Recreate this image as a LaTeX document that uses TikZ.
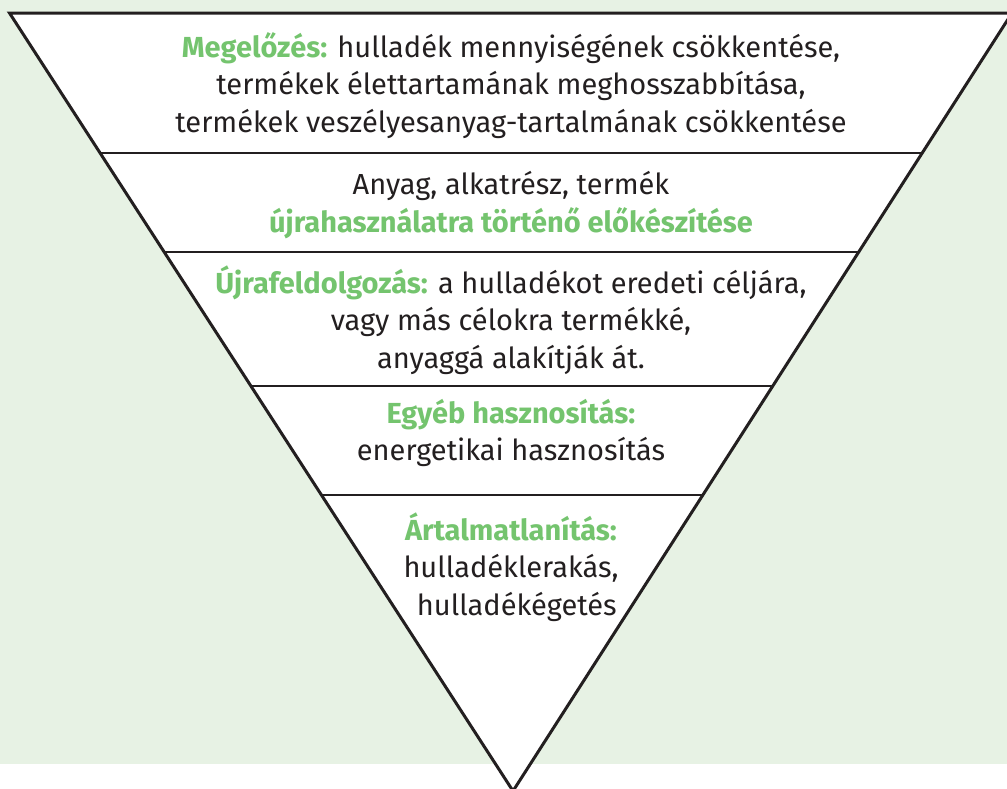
\documentclass[tikz,border=0pt]{standalone}
\usepackage{fontspec}
\setmainfont{Fira Sans}
\definecolor{bggreen}{HTML}{E7F2E4}
\definecolor{hl}{HTML}{74C46E}
\definecolor{ink}{HTML}{231F20}
\tikzset{
  lvltext/.style={align=center, text=ink, font=\fontsize{29}{37.5}\selectfont, inner sep=0pt, anchor=center},
  sep/.style={draw=ink, line width=2.6pt}
}
\newcommand{\hlt}[1]{\textcolor{hl}{\bfseries #1}}
\begin{document}
\begin{tikzpicture}[x=1pt,y=-1pt]
\useasboundingbox (0,0) rectangle (1007,788);
\fill[bggreen] (0,0) rectangle (1007,764);
\begin{scope}
\clip (0,0) rectangle (1007,788);
\coordinate (L) at (9.5,13);
\coordinate (R) at (1012,13);
\coordinate (A) at (513,791);
\fill[white] (L) -- (R) -- (A) -- cycle;
\begin{scope}
\clip (L) -- (R) -- (A) -- cycle;
\draw[sep] (0,153) -- (1007,153);
\draw[sep] (0,252) -- (1007,252);
\draw[sep] (0,386) -- (1007,386);
\draw[sep] (0,495) -- (1007,495);
\end{scope}
\draw[ink, line width=3pt, line join=miter] (L) -- (R) -- (A) -- cycle;
\end{scope}
\node[lvltext] (t1) at (511,85.5) {\hlt{Megelőzés:} hulladék mennyiségének csökkentése,\\termékek élettartamának meghosszabbítása,\\termékek veszélyesanyag-tartalmának csökkentése};
\node[lvltext] (t2) at (511,205) {Anyag, alkatrész, termék\\\hlt{újrahasználatra történő előkészítése}};
\node[lvltext] (t3) at (511,320) {\hlt{Újrafeldolgozás:} a hulladékot eredeti céljára,\\vagy más célokra termékké,\\anyaggá alakítják át.};
\node[lvltext] (t4) at (511,433) {\hlt{Egyéb hasznosítás:}\\energetikai hasznosítás};
\node[lvltext] (t5) at (511,567) {\hlt{Ártalmatlanítás:}\\hulladéklerakás,\\\hspace*{0.4em}hulladékégetés};
\end{tikzpicture}
\end{document}
